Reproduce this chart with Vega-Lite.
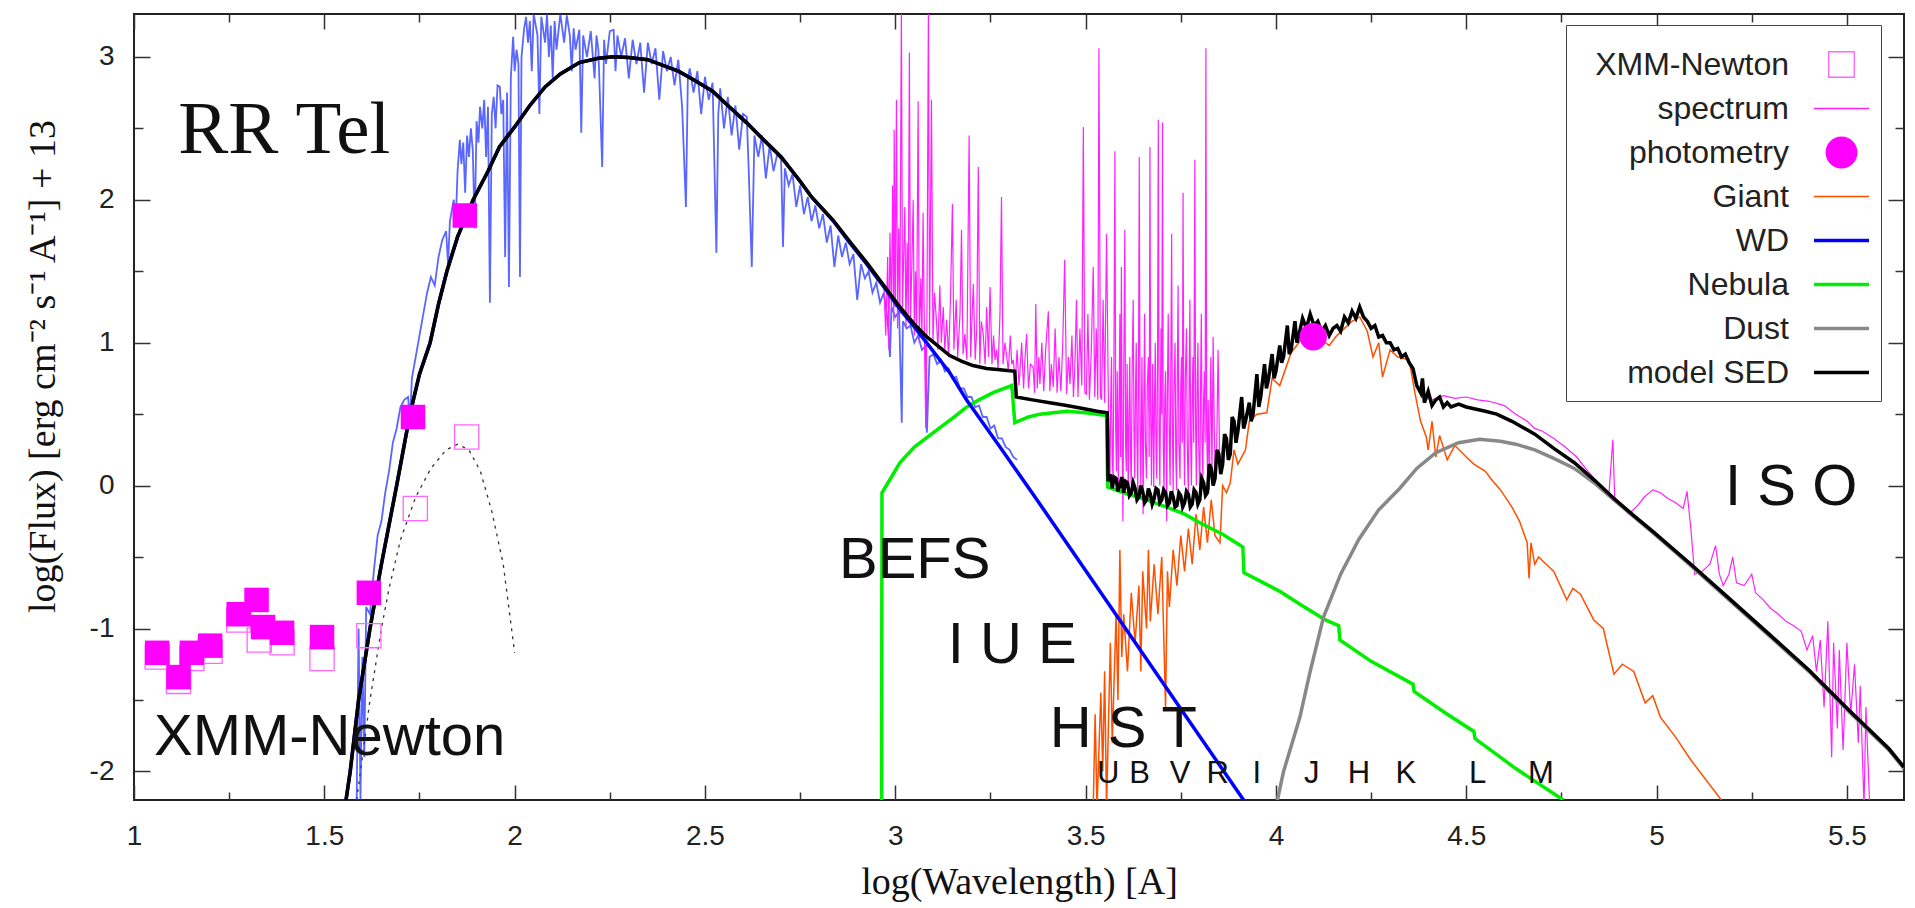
{
 "$schema": "https://vega.github.io/schema/vega-lite/v6.json",
 "width": 1770, "height": 786,
 "autosize": {"type": "none"},
 "padding": {"left": 134, "top": 14, "right": 11, "bottom": 108},
 "background": "white",
 "datasets": {
  "dot": [{"x":1.585,"y":-2.2},{"x":1.62,"y":-1.5},{"x":1.65,"y":-1.0},{"x":1.67,"y":-0.72},{"x":1.70,"y":-0.38},{"x":1.74,"y":-0.08},{"x":1.78,"y":0.12},{"x":1.82,"y":0.25},{"x":1.85,"y":0.29},{"x":1.88,"y":0.25},{"x":1.91,"y":0.10},{"x":1.94,"y":-0.18},{"x":1.97,"y":-0.55},{"x":2.0,"y":-1.17}],
  "wdn": [{"x":1.585,"y":-2.2},{"x":1.59,"y":-1.0},{"x":1.595,"y":-2.2},{"x":1.60,"y":-1.2},{"x":1.605,"y":-1.9},{"x":1.61,"y":-0.85},{"x":1.62,"y":-0.9},{"x":1.63,"y":-0.6},{"x":1.64,"y":-0.35},{"x":1.65,"y":-0.25},{"x":1.66,"y":-0.05},{"x":1.67,"y":0.10},{"x":1.68,"y":0.30},{"x":1.69,"y":0.40},{"x":1.70,"y":0.55},{"x":1.71,"y":0.60},{"x":1.72,"y":0.62},{"x":1.725,"y":0.45},{"x":1.73,"y":0.75},{"x":1.74,"y":0.90},{"x":1.75,"y":1.05},{"x":1.76,"y":1.20},{"x":1.77,"y":1.35},{"x":1.78,"y":1.46},{"x":1.79,"y":1.40},{"x":1.80,"y":1.60},{"x":1.81,"y":1.72},{"x":1.82,"y":1.78},{"x":1.825,"y":1.55},{"x":1.83,"y":1.85},{"x":1.84,"y":2.0},{"x":1.845,"y":1.82},{"x":1.85,"y":2.20},{"x":1.856,"y":2.42},{"x":1.86,"y":2.25},{"x":1.865,"y":2.40},{"x":1.87,"y":2.05},{"x":1.875,"y":2.45},{"x":1.88,"y":2.30},{"x":1.885,"y":2.50},{"x":1.89,"y":2.35},{"x":1.895,"y":1.80},{"x":1.90,"y":2.55},{"x":1.905,"y":2.40},{"x":1.909,"y":2.65},{"x":1.915,"y":2.50},{"x":1.92,"y":2.70},{"x":1.925,"y":2.30},{"x":1.93,"y":2.65},{"x":1.935,"y":1.28},{"x":1.94,"y":2.60},{"x":1.945,"y":2.72},{"x":1.95,"y":2.50},{"x":1.955,"y":2.80},{"x":1.961,"y":2.79},{"x":1.965,"y":2.60},{"x":1.97,"y":2.70},{"x":1.975,"y":1.60},{"x":1.98,"y":2.75},{"x":1.985,"y":1.39},{"x":1.99,"y":2.85},{"x":1.996,"y":3.14},{"x":2.0,"y":2.90},{"x":2.005,"y":3.05},{"x":2.01,"y":2.95},{"x":2.014,"y":1.46},{"x":2.018,"y":3.0},{"x":2.025,"y":3.20},{"x":2.03,"y":3.28},{"x":2.035,"y":3.10},{"x":2.04,"y":3.25},{"x":2.045,"y":2.90},{"x":2.05,"y":3.30},{"x":2.06,"y":3.15},{"x":2.065,"y":2.60},{"x":2.07,"y":3.28},{"x":2.08,"y":3.10},{"x":2.085,"y":3.30},{"x":2.09,"y":3.00},{"x":2.095,"y":3.22},{"x":2.10,"y":2.85},{"x":2.105,"y":3.25},{"x":2.11,"y":3.05},{"x":2.12,"y":3.30},{"x":2.13,"y":3.10},{"x":2.137,"y":3.29},{"x":2.145,"y":3.15},{"x":2.15,"y":2.90},{"x":2.155,"y":3.20},{"x":2.16,"y":3.05},{"x":2.17,"y":3.19},{"x":2.175,"y":2.47},{"x":2.18,"y":3.15},{"x":2.19,"y":3.0},{"x":2.20,"y":3.18},{"x":2.21,"y":2.85},{"x":2.215,"y":3.15},{"x":2.22,"y":3.05},{"x":2.23,"y":2.23},{"x":2.235,"y":3.12},{"x":2.24,"y":2.95},{"x":2.25,"y":3.18},{"x":2.26,"y":3.19},{"x":2.265,"y":2.90},{"x":2.27,"y":3.15},{"x":2.28,"y":3.0},{"x":2.29,"y":3.13},{"x":2.30,"y":2.85},{"x":2.31,"y":3.12},{"x":2.32,"y":2.95},{"x":2.33,"y":3.10},{"x":2.34,"y":2.75},{"x":2.35,"y":3.10},{"x":2.36,"y":2.95},{"x":2.37,"y":3.06},{"x":2.38,"y":2.70},{"x":2.39,"y":3.04},{"x":2.40,"y":2.90},{"x":2.41,"y":3.0},{"x":2.42,"y":2.80},{"x":2.43,"y":2.98},{"x":2.44,"y":2.65},{"x":2.45,"y":1.95},{"x":2.455,"y":2.85},{"x":2.46,"y":2.92},{"x":2.47,"y":2.75},{"x":2.48,"y":2.90},{"x":2.49,"y":2.60},{"x":2.50,"y":2.86},{"x":2.51,"y":2.70},{"x":2.52,"y":2.82},{"x":2.53,"y":1.63},{"x":2.535,"y":2.60},{"x":2.54,"y":2.78},{"x":2.55,"y":2.50},{"x":2.56,"y":2.72},{"x":2.57,"y":2.45},{"x":2.58,"y":2.66},{"x":2.59,"y":2.35},{"x":2.60,"y":2.60},{"x":2.61,"y":2.58},{"x":2.615,"y":2.20},{"x":2.623,"y":1.53},{"x":2.63,"y":2.45},{"x":2.64,"y":2.30},{"x":2.65,"y":2.45},{"x":2.66,"y":2.15},{"x":2.67,"y":2.38},{"x":2.68,"y":2.20},{"x":2.69,"y":2.32},{"x":2.70,"y":2.28},{"x":2.705,"y":1.67},{"x":2.71,"y":2.22},{"x":2.72,"y":2.10},{"x":2.73,"y":2.18},{"x":2.74,"y":1.95},{"x":2.75,"y":2.10},{"x":2.76,"y":1.90},{"x":2.77,"y":2.02},{"x":2.78,"y":1.85},{"x":2.79,"y":1.96},{"x":2.80,"y":1.80},{"x":2.81,"y":1.90},{"x":2.82,"y":1.70},{"x":2.83,"y":1.82},{"x":2.84,"y":1.53},{"x":2.85,"y":1.75},{"x":2.86,"y":1.60},{"x":2.87,"y":1.70},{"x":2.88,"y":1.55},{"x":2.89,"y":1.62},{"x":2.90,"y":1.30},{"x":2.91,"y":1.55},{"x":2.92,"y":1.45},{"x":2.93,"y":1.50},{"x":2.94,"y":1.35},{"x":2.95,"y":1.42},{"x":2.96,"y":1.28},{"x":2.97,"y":1.35},{"x":2.98,"y":1.15},{"x":2.986,"y":0.90},{"x":2.99,"y":1.25},{"x":3.00,"y":1.18},{"x":3.01,"y":1.22},{"x":3.017,"y":0.44},{"x":3.02,"y":1.15},{"x":3.03,"y":1.10},{"x":3.04,"y":1.12},{"x":3.05,"y":1.0},{"x":3.06,"y":1.05},{"x":3.07,"y":0.95},{"x":3.08,"y":0.98},{"x":3.083,"y":0.37},{"x":3.09,"y":0.90},{"x":3.10,"y":0.92},{"x":3.11,"y":0.85},{"x":3.12,"y":0.88},{"x":3.13,"y":0.80},{"x":3.14,"y":0.82},{"x":3.15,"y":0.75},{"x":3.16,"y":0.76},{"x":3.17,"y":0.68},{"x":3.18,"y":0.68},{"x":3.19,"y":0.62},{"x":3.20,"y":0.62},{"x":3.21,"y":0.55},{"x":3.22,"y":0.56},{"x":3.23,"y":0.48},{"x":3.24,"y":0.48},{"x":3.25,"y":0.40},{"x":3.26,"y":0.42},{"x":3.27,"y":0.33},{"x":3.28,"y":0.33},{"x":3.29,"y":0.27},{"x":3.30,"y":0.25},{"x":3.31,"y":0.20},{"x":3.32,"y":0.18}],
  "spec": [{"seg":"a","x":2.970,"y":1.40},{"seg":"a","x":2.975,"y":1.05},{"seg":"a","x":2.980,"y":1.60},{"seg":"a","x":2.983,"y":0.95},{"seg":"a","x":2.986,"y":1.77},{"seg":"a","x":2.990,"y":1.20},{"seg":"a","x":2.993,"y":2.10},{"seg":"a","x":2.996,"y":1.15},{"seg":"a","x":2.997,"y":2.49},{"seg":"a","x":3.000,"y":1.25},{"seg":"a","x":3.003,"y":2.70},{"seg":"a","x":3.006,"y":1.10},{"seg":"a","x":3.009,"y":1.80},{"seg":"a","x":3.012,"y":1.20},{"seg":"a","x":3.016,"y":3.35},{"seg":"a","x":3.019,"y":1.25},{"seg":"a","x":3.022,"y":1.60},{"seg":"a","x":3.025,"y":1.95},{"seg":"a","x":3.028,"y":1.10},{"seg":"a","x":3.031,"y":1.70},{"seg":"a","x":3.034,"y":1.20},{"seg":"a","x":3.037,"y":3.03},{"seg":"a","x":3.040,"y":1.15},{"seg":"a","x":3.044,"y":1.60},{"seg":"a","x":3.047,"y":2.00},{"seg":"a","x":3.050,"y":1.05},{"seg":"a","x":3.053,"y":1.50},{"seg":"a","x":3.056,"y":1.10},{"seg":"a","x":3.060,"y":2.69},{"seg":"a","x":3.063,"y":1.00},{"seg":"a","x":3.067,"y":1.45},{"seg":"a","x":3.070,"y":1.05},{"seg":"a","x":3.073,"y":1.91},{"seg":"a","x":3.077,"y":0.95},{"seg":"a","x":3.080,"y":0.40},{"seg":"a","x":3.083,"y":1.10},{"seg":"a","x":3.087,"y":3.35},{"seg":"a","x":3.090,"y":1.05},{"seg":"a","x":3.095,"y":2.70},{"seg":"a","x":3.099,"y":1.00},{"seg":"a","x":3.103,"y":1.35},{"seg":"a","x":3.108,"y":1.16},{"seg":"a","x":3.112,"y":0.95},{"seg":"a","x":3.117,"y":1.40},{"seg":"a","x":3.121,"y":1.00},{"seg":"a","x":3.126,"y":1.25},{"seg":"a","x":3.130,"y":0.95},{"seg":"a","x":3.135,"y":1.16},{"seg":"a","x":3.140,"y":0.90},{"seg":"a","x":3.145,"y":1.30},{"seg":"a","x":3.150,"y":1.97},{"seg":"a","x":3.154,"y":0.95},{"seg":"a","x":3.160,"y":1.30},{"seg":"a","x":3.164,"y":0.90},{"seg":"a","x":3.170,"y":1.20},{"seg":"a","x":3.174,"y":1.79},{"seg":"a","x":3.178,"y":0.92},{"seg":"a","x":3.183,"y":1.06},{"seg":"a","x":3.188,"y":0.88},{"seg":"a","x":3.194,"y":2.45},{"seg":"a","x":3.198,"y":0.90},{"seg":"a","x":3.202,"y":1.20},{"seg":"a","x":3.205,"y":1.41},{"seg":"a","x":3.210,"y":0.88},{"seg":"a","x":3.214,"y":1.10},{"seg":"a","x":3.218,"y":2.23},{"seg":"a","x":3.222,"y":0.85},{"seg":"a","x":3.226,"y":1.15},{"seg":"a","x":3.231,"y":1.06},{"seg":"a","x":3.236,"y":0.85},{"seg":"a","x":3.240,"y":1.25},{"seg":"a","x":3.245,"y":0.90},{"seg":"a","x":3.249,"y":1.39},{"seg":"a","x":3.254,"y":0.85},{"seg":"a","x":3.258,"y":1.05},{"seg":"a","x":3.262,"y":0.88},{"seg":"a","x":3.266,"y":0.95},{"seg":"a","x":3.270,"y":0.82},{"seg":"a","x":3.275,"y":1.20},{"seg":"a","x":3.279,"y":2.02},{"seg":"a","x":3.283,"y":0.85},{"seg":"a","x":3.288,"y":1.00},{"seg":"a","x":3.292,"y":0.92},{"seg":"a","x":3.297,"y":0.80},{"seg":"a","x":3.302,"y":1.05},{"seg":"a","x":3.306,"y":0.85},{"seg":"a","x":3.310,"y":0.88},{"seg":"a","x":3.315,"y":0.72},{"seg":"a","x":3.320,"y":0.95},{"seg":"a","x":3.325,"y":0.70},{"seg":"a","x":3.327,"y":0.78},{"seg":"a","x":3.332,"y":1.00},{"seg":"a","x":3.337,"y":0.68},{"seg":"a","x":3.341,"y":0.90},{"seg":"a","x":3.345,"y":1.06},{"seg":"a","x":3.350,"y":0.68},{"seg":"a","x":3.355,"y":0.85},{"seg":"a","x":3.362,"y":0.83},{"seg":"a","x":3.366,"y":0.65},{"seg":"a","x":3.369,"y":1.27},{"seg":"a","x":3.373,"y":0.68},{"seg":"a","x":3.377,"y":0.90},{"seg":"a","x":3.380,"y":0.71},{"seg":"a","x":3.385,"y":1.00},{"seg":"a","x":3.390,"y":0.66},{"seg":"a","x":3.395,"y":0.95},{"seg":"a","x":3.402,"y":1.22},{"seg":"a","x":3.406,"y":0.66},{"seg":"a","x":3.410,"y":0.85},{"seg":"a","x":3.415,"y":0.69},{"seg":"a","x":3.420,"y":1.10},{"seg":"a","x":3.425,"y":0.65},{"seg":"a","x":3.430,"y":0.90},{"seg":"a","x":3.435,"y":0.66},{"seg":"a","x":3.440,"y":1.00},{"seg":"a","x":3.445,"y":1.58},{"seg":"a","x":3.450,"y":0.64},{"seg":"a","x":3.455,"y":0.90},{"seg":"a","x":3.459,"y":0.71},{"seg":"a","x":3.464,"y":1.05},{"seg":"a","x":3.468,"y":0.62},{"seg":"a","x":3.472,"y":0.85},{"seg":"a","x":3.476,"y":1.30},{"seg":"a","x":3.480,"y":0.62},{"seg":"a","x":3.485,"y":1.10},{"seg":"a","x":3.490,"y":0.70},{"seg":"a","x":3.494,"y":2.51},{"seg":"a","x":3.498,"y":0.65},{"seg":"a","x":3.502,"y":0.64},{"seg":"a","x":3.506,"y":1.20},{"seg":"a","x":3.510,"y":0.60},{"seg":"a","x":3.515,"y":0.95},{"seg":"a","x":3.520,"y":1.53},{"seg":"a","x":3.524,"y":0.62},{"seg":"a","x":3.528,"y":1.10},{"seg":"a","x":3.532,"y":0.60},{"seg":"a","x":3.535,"y":3.06},{"seg":"a","x":3.539,"y":0.62},{"seg":"a","x":3.542,"y":0.60},{"seg":"a","x":3.546,"y":1.30},{"seg":"a","x":3.550,"y":0.58},{"seg":"a","x":3.555,"y":1.76},{"seg":"a","x":3.560,"y":0.55},{"seg":"a","x":3.562,"y":0.30},{"seg":"a","x":3.564,"y":0.04},{"seg":"a","x":3.566,"y":0.60},{"seg":"a","x":3.568,"y":0.90},{"seg":"a","x":3.570,"y":0.20},{"seg":"a","x":3.572,"y":0.05},{"seg":"a","x":3.574,"y":0.70},{"seg":"a","x":3.577,"y":2.34},{"seg":"a","x":3.579,"y":0.40},{"seg":"a","x":3.581,"y":0.10},{"seg":"a","x":3.583,"y":0.80},{"seg":"a","x":3.586,"y":0.01},{"seg":"a","x":3.588,"y":0.60},{"seg":"a","x":3.590,"y":1.20},{"seg":"a","x":3.592,"y":0.20},{"seg":"a","x":3.594,"y":1.53},{"seg":"a","x":3.596,"y":0.30},{"seg":"a","x":3.598,"y":-0.25},{"seg":"a","x":3.600,"y":0.70},{"seg":"a","x":3.603,"y":1.79},{"seg":"a","x":3.605,"y":0.30},{"seg":"a","x":3.607,"y":0.10},{"seg":"a","x":3.609,"y":0.85},{"seg":"a","x":3.612,"y":-0.06},{"seg":"a","x":3.614,"y":0.50},{"seg":"a","x":3.616,"y":0.90},{"seg":"a","x":3.618,"y":0.20},{"seg":"a","x":3.620,"y":0.00},{"seg":"a","x":3.622,"y":0.75},{"seg":"a","x":3.625,"y":1.30},{"seg":"a","x":3.627,"y":0.40},{"seg":"a","x":3.629,"y":0.05},{"seg":"a","x":3.631,"y":0.65},{"seg":"a","x":3.633,"y":1.00},{"seg":"a","x":3.635,"y":0.30},{"seg":"a","x":3.637,"y":-0.05},{"seg":"a","x":3.639,"y":0.80},{"seg":"a","x":3.641,"y":2.30},{"seg":"a","x":3.643,"y":0.40},{"seg":"a","x":3.645,"y":0.00},{"seg":"a","x":3.648,"y":0.90},{"seg":"a","x":3.651,"y":-0.20},{"seg":"a","x":3.653,"y":0.60},{"seg":"a","x":3.655,"y":1.20},{"seg":"a","x":3.657,"y":0.30},{"seg":"a","x":3.660,"y":0.05},{"seg":"a","x":3.662,"y":0.70},{"seg":"a","x":3.665,"y":0.90},{"seg":"a","x":3.667,"y":0.20},{"seg":"a","x":3.669,"y":2.37},{"seg":"a","x":3.671,"y":0.50},{"seg":"a","x":3.673,"y":0.00},{"seg":"a","x":3.676,"y":0.85},{"seg":"a","x":3.679,"y":-0.01},{"seg":"a","x":3.681,"y":0.60},{"seg":"a","x":3.683,"y":1.00},{"seg":"a","x":3.685,"y":0.25},{"seg":"a","x":3.687,"y":0.05},{"seg":"a","x":3.689,"y":0.90},{"seg":"a","x":3.691,"y":2.56},{"seg":"a","x":3.693,"y":0.40},{"seg":"a","x":3.695,"y":0.00},{"seg":"a","x":3.698,"y":1.10},{"seg":"a","x":3.700,"y":0.50},{"seg":"a","x":3.702,"y":2.54},{"seg":"a","x":3.704,"y":0.30},{"seg":"a","x":3.706,"y":-0.05},{"seg":"a","x":3.708,"y":0.60},{"seg":"a","x":3.710,"y":0.80},{"seg":"a","x":3.712,"y":0.20},{"seg":"a","x":3.713,"y":-0.25},{"seg":"a","x":3.715,"y":0.70},{"seg":"a","x":3.717,"y":1.20},{"seg":"a","x":3.720,"y":0.30},{"seg":"a","x":3.722,"y":0.00},{"seg":"a","x":3.724,"y":0.90},{"seg":"a","x":3.726,"y":1.76},{"seg":"a","x":3.728,"y":0.40},{"seg":"a","x":3.730,"y":-0.05},{"seg":"a","x":3.732,"y":0.65},{"seg":"a","x":3.735,"y":1.00},{"seg":"a","x":3.737,"y":0.20},{"seg":"a","x":3.739,"y":-0.03},{"seg":"a","x":3.741,"y":0.80},{"seg":"a","x":3.743,"y":1.40},{"seg":"a","x":3.745,"y":0.30},{"seg":"a","x":3.748,"y":0.05},{"seg":"a","x":3.750,"y":0.70},{"seg":"a","x":3.752,"y":0.90},{"seg":"a","x":3.754,"y":0.30},{"seg":"a","x":3.756,"y":2.05},{"seg":"a","x":3.758,"y":0.40},{"seg":"a","x":3.760,"y":0.00},{"seg":"a","x":3.762,"y":0.75},{"seg":"a","x":3.765,"y":1.10},{"seg":"a","x":3.767,"y":0.30},{"seg":"a","x":3.770,"y":-0.08},{"seg":"a","x":3.772,"y":0.70},{"seg":"a","x":3.774,"y":1.30},{"seg":"a","x":3.776,"y":0.30},{"seg":"a","x":3.778,"y":0.00},{"seg":"a","x":3.780,"y":0.60},{"seg":"a","x":3.782,"y":0.90},{"seg":"a","x":3.784,"y":0.30},{"seg":"a","x":3.787,"y":2.28},{"seg":"a","x":3.789,"y":0.40},{"seg":"a","x":3.791,"y":0.00},{"seg":"a","x":3.793,"y":0.70},{"seg":"a","x":3.795,"y":1.00},{"seg":"a","x":3.797,"y":0.30},{"seg":"a","x":3.800,"y":-0.06},{"seg":"a","x":3.802,"y":0.70},{"seg":"a","x":3.804,"y":1.20},{"seg":"a","x":3.806,"y":0.30},{"seg":"a","x":3.808,"y":0.05},{"seg":"a","x":3.810,"y":0.60},{"seg":"a","x":3.812,"y":0.80},{"seg":"a","x":3.814,"y":0.30},{"seg":"a","x":3.816,"y":3.06},{"seg":"a","x":3.818,"y":0.40},{"seg":"a","x":3.820,"y":0.10},{"seg":"a","x":3.822,"y":0.60},{"seg":"a","x":3.825,"y":-0.03},{"seg":"a","x":3.827,"y":0.50},{"seg":"a","x":3.829,"y":0.90},{"seg":"a","x":3.832,"y":0.10},{"seg":"a","x":3.835,"y":1.04},{"seg":"a","x":3.838,"y":0.40},{"seg":"a","x":3.840,"y":0.15},{"seg":"a","x":3.844,"y":0.18},{"seg":"a","x":3.848,"y":0.95},{"seg":"a","x":3.852,"y":0.20},{"seg":"a","x":3.854,"y":0.13},{"seg":"a","x":3.860,"y":0.30},
   {"seg":"b","x":4.38,"y":0.62},{"seg":"b","x":4.41,"y":0.60},{"seg":"b","x":4.44,"y":0.63},{"seg":"b","x":4.47,"y":0.61},{"seg":"b","x":4.50,"y":0.62},{"seg":"b","x":4.53,"y":0.60},{"seg":"b","x":4.56,"y":0.59},{"seg":"b","x":4.60,"y":0.56},{"seg":"b","x":4.63,"y":0.50},{"seg":"b","x":4.66,"y":0.45},{"seg":"b","x":4.68,"y":0.40},{"seg":"b","x":4.70,"y":0.38},{"seg":"b","x":4.73,"y":0.33},{"seg":"b","x":4.76,"y":0.27},{"seg":"b","x":4.79,"y":0.20},{"seg":"b","x":4.82,"y":0.10},{"seg":"b","x":4.846,"y":0.02},{"seg":"b","x":4.86,"y":-0.02},{"seg":"b","x":4.875,"y":-0.05},{"seg":"b","x":4.885,"y":0.32},{"seg":"b","x":4.89,"y":-0.08},{"seg":"b","x":4.91,"y":-0.15},{"seg":"b","x":4.927,"y":-0.20},{"seg":"b","x":4.95,"y":-0.14},{"seg":"b","x":4.968,"y":-0.08},{"seg":"b","x":4.99,"y":-0.03},{"seg":"b","x":5.01,"y":-0.05},{"seg":"b","x":5.03,"y":-0.09},{"seg":"b","x":5.05,"y":-0.12},{"seg":"b","x":5.07,"y":-0.16},{"seg":"b","x":5.08,"y":-0.04},{"seg":"b","x":5.09,"y":-0.30},{"seg":"b","x":5.10,"y":-0.62},{"seg":"b","x":5.12,"y":-0.60},{"seg":"b","x":5.14,"y":-0.55},{"seg":"b","x":5.155,"y":-0.42},{"seg":"b","x":5.165,"y":-0.62},{"seg":"b","x":5.175,"y":-0.70},{"seg":"b","x":5.19,"y":-0.62},{"seg":"b","x":5.20,"y":-0.50},{"seg":"b","x":5.21,"y":-0.68},{"seg":"b","x":5.23,"y":-0.70},{"seg":"b","x":5.25,"y":-0.62},{"seg":"b","x":5.26,"y":-0.75},{"seg":"b","x":5.28,"y":-0.80},{"seg":"b","x":5.30,"y":-0.86},{"seg":"b","x":5.32,"y":-0.90},{"seg":"b","x":5.34,"y":-0.95},{"seg":"b","x":5.36,"y":-0.98},{"seg":"b","x":5.38,"y":-1.02},{"seg":"b","x":5.395,"y":-1.15},{"seg":"b","x":5.41,"y":-1.05},{"seg":"b","x":5.42,"y":-1.30},{"seg":"b","x":5.43,"y":-1.08},{"seg":"b","x":5.44,"y":-1.55},{"seg":"b","x":5.45,"y":-0.95},{"seg":"b","x":5.46,"y":-1.90},{"seg":"b","x":5.465,"y":-1.10},{"seg":"b","x":5.475,"y":-1.70},{"seg":"b","x":5.48,"y":-1.15},{"seg":"b","x":5.49,"y":-1.85},{"seg":"b","x":5.50,"y":-1.10},{"seg":"b","x":5.51,"y":-1.60},{"seg":"b","x":5.52,"y":-1.25},{"seg":"b","x":5.53,"y":-1.80},{"seg":"b","x":5.535,"y":-1.40},{"seg":"b","x":5.545,"y":-2.25},{"seg":"b","x":5.55,"y":-1.55},{"seg":"b","x":5.56,"y":-2.25}],
  "giant": [{"x":3.52,"y":-2.25},{"x":3.525,"y":-1.6},{"x":3.53,"y":-2.25},{"x":3.54,"y":-1.45},{"x":3.545,"y":-2.0},{"x":3.55,"y":-1.3},{"x":3.555,"y":-2.25},{"x":3.565,"y":-1.1},{"x":3.57,"y":-1.8},{"x":3.58,"y":-0.9},{"x":3.585,"y":-1.5},{"x":3.59,"y":-0.45},{"x":3.595,"y":-1.2},{"x":3.60,"y":-0.9},{"x":3.61,"y":-1.3},{"x":3.62,"y":-0.75},{"x":3.63,"y":-1.1},{"x":3.64,"y":-0.7},{"x":3.645,"y":-1.3},{"x":3.65,"y":-0.6},{"x":3.66,"y":-1.0},{"x":3.665,"y":-0.45},{"x":3.67,"y":-0.95},{"x":3.68,"y":-0.55},{"x":3.69,"y":-0.9},{"x":3.70,"y":-0.5},{"x":3.71,"y":-1.55},{"x":3.715,"y":-0.6},{"x":3.72,"y":-0.85},{"x":3.73,"y":-0.45},{"x":3.74,"y":-0.7},{"x":3.75,"y":-0.35},{"x":3.76,"y":-0.6},{"x":3.77,"y":-0.3},{"x":3.78,"y":-0.55},{"x":3.79,"y":-0.2},{"x":3.80,"y":-0.45},{"x":3.81,"y":-0.15},{"x":3.82,"y":-0.4},{"x":3.83,"y":-0.1},{"x":3.84,"y":-0.35},{"x":3.853,"y":-0.4},{"x":3.86,"y":0.0},{"x":3.87,"y":-0.05},{"x":3.88,"y":0.02},{"x":3.89,"y":0.25},{"x":3.90,"y":0.15},{"x":3.92,"y":0.25},{"x":3.93,"y":0.45},{"x":3.95,"y":0.5},{"x":3.976,"y":0.51},{"x":3.99,"y":0.75},{"x":4.01,"y":0.7},{"x":4.04,"y":0.93},{"x":4.06,"y":1.0},{"x":4.08,"y":1.08},{"x":4.10,"y":1.05},{"x":4.12,"y":1.02},{"x":4.14,"y":0.98},{"x":4.16,"y":1.05},{"x":4.18,"y":1.1},{"x":4.20,"y":1.15},{"x":4.22,"y":1.18},{"x":4.24,"y":1.08},{"x":4.255,"y":0.9},{"x":4.27,"y":1.0},{"x":4.28,"y":0.76},{"x":4.30,"y":0.95},{"x":4.32,"y":0.9},{"x":4.35,"y":0.88},{"x":4.365,"y":0.65},{"x":4.38,"y":0.45},{"x":4.395,"y":0.34},{"x":4.40,"y":0.25},{"x":4.41,"y":0.45},{"x":4.42,"y":0.2},{"x":4.43,"y":0.35},{"x":4.45,"y":0.18},{"x":4.47,"y":0.28},{"x":4.50,"y":0.2},{"x":4.52,"y":0.15},{"x":4.55,"y":0.1},{"x":4.57,"y":0.03},{"x":4.59,"y":-0.03},{"x":4.62,"y":-0.15},{"x":4.64,"y":-0.25},{"x":4.66,"y":-0.4},{"x":4.665,"y":-0.65},{"x":4.67,"y":-0.4},{"x":4.68,"y":-0.55},{"x":4.69,"y":-0.5},{"x":4.71,"y":-0.55},{"x":4.73,"y":-0.6},{"x":4.764,"y":-0.8},{"x":4.78,"y":-0.72},{"x":4.80,"y":-0.76},{"x":4.835,"y":-0.94},{"x":4.86,"y":-1.0},{"x":4.888,"y":-1.32},{"x":4.91,"y":-1.25},{"x":4.94,"y":-1.3},{"x":4.97,"y":-1.52},{"x":4.99,"y":-1.47},{"x":5.01,"y":-1.62},{"x":5.05,"y":-1.76},{"x":5.09,"y":-1.92},{"x":5.17,"y":-2.2}],
  "neb": [{"x":2.964,"y":-2.25},{"x":2.965,"y":-0.05},{"x":2.99,"y":0.06},{"x":3.012,"y":0.16},{"x":3.05,"y":0.27},{"x":3.10,"y":0.37},{"x":3.15,"y":0.47},{"x":3.188,"y":0.55},{"x":3.22,"y":0.60},{"x":3.257,"y":0.65},{"x":3.306,"y":0.70},{"x":3.314,"y":0.44},{"x":3.35,"y":0.48},{"x":3.38,"y":0.50},{"x":3.45,"y":0.52},{"x":3.50,"y":0.51},{"x":3.555,"y":0.49},{"x":3.558,"y":-0.01},{"x":3.60,"y":-0.05},{"x":3.65,"y":-0.09},{"x":3.713,"y":-0.15},{"x":3.76,"y":-0.20},{"x":3.80,"y":-0.26},{"x":3.86,"y":-0.34},{"x":3.913,"y":-0.43},{"x":3.916,"y":-0.61},{"x":3.96,"y":-0.67},{"x":4.01,"y":-0.74},{"x":4.063,"y":-0.83},{"x":4.13,"y":-0.94},{"x":4.165,"y":-0.98},{"x":4.168,"y":-1.08},{"x":4.25,"y":-1.23},{"x":4.36,"y":-1.39},{"x":4.363,"y":-1.44},{"x":4.45,"y":-1.60},{"x":4.52,"y":-1.72},{"x":4.523,"y":-1.77},{"x":4.63,"y":-1.98},{"x":4.755,"y":-2.2}],
  "dust": [{"x":4.0,"y":-2.25},{"x":4.02,"y":-2.0},{"x":4.045,"y":-1.78},{"x":4.063,"y":-1.62},{"x":4.09,"y":-1.30},{"x":4.125,"y":-0.92},{"x":4.17,"y":-0.62},{"x":4.218,"y":-0.375},{"x":4.27,"y":-0.17},{"x":4.325,"y":-0.02},{"x":4.37,"y":0.12},{"x":4.42,"y":0.23},{"x":4.48,"y":0.30},{"x":4.535,"y":0.325},{"x":4.59,"y":0.31},{"x":4.63,"y":0.29},{"x":4.68,"y":0.25},{"x":4.73,"y":0.19},{"x":4.784,"y":0.12},{"x":4.84,"y":0.01},{"x":4.888,"y":-0.10},{"x":4.99,"y":-0.33},{"x":5.09,"y":-0.56},{"x":5.195,"y":-0.81},{"x":5.30,"y":-1.06},{"x":5.40,"y":-1.30},{"x":5.505,"y":-1.58},{"x":5.61,"y":-1.85},{"x":5.65,"y":-1.98}],
  "wd": [{"x":1.557,"y":-2.2},{"x":1.568,"y":-2.0},{"x":1.59,"y":-1.5},{"x":1.62,"y":-1.0},{"x":1.65,"y":-0.55},{"x":1.69,"y":0.0},{"x":1.725,"y":0.5},{"x":1.75,"y":0.78},{"x":1.778,"y":1.0},{"x":1.80,"y":1.27},{"x":1.822,"y":1.5},{"x":1.85,"y":1.74},{"x":1.891,"y":2.0},{"x":1.93,"y":2.2},{"x":1.96,"y":2.37},{"x":2.0,"y":2.51},{"x":2.04,"y":2.66},{"x":2.08,"y":2.79},{"x":2.12,"y":2.88},{"x":2.17,"y":2.96},{"x":2.22,"y":2.99},{"x":2.26,"y":3.0},{"x":2.30,"y":2.995},{"x":2.35,"y":2.98},{"x":2.40,"y":2.93},{"x":2.43,"y":2.90},{"x":2.47,"y":2.84},{"x":2.52,"y":2.76},{"x":2.56,"y":2.66},{"x":2.609,"y":2.54},{"x":2.65,"y":2.43},{"x":2.70,"y":2.30},{"x":2.75,"y":2.13},{"x":2.78,"y":2.02},{"x":2.836,"y":1.855},{"x":2.88,"y":1.70},{"x":2.925,"y":1.55},{"x":2.97,"y":1.39},{"x":3.012,"y":1.235},{"x":3.05,"y":1.11},{"x":3.082,"y":1.0},{"x":3.143,"y":0.79},{"x":3.187,"y":0.60},{"x":3.275,"y":0.27},{"x":3.362,"y":-0.06},{"x":3.5,"y":-0.594},{"x":3.65,"y":-1.175},{"x":3.8,"y":-1.755},{"x":3.915,"y":-2.2}],
  "sed": [{"x":1.557,"y":-2.2},{"x":1.568,"y":-2.0},{"x":1.59,"y":-1.5},{"x":1.62,"y":-1.0},{"x":1.65,"y":-0.55},{"x":1.69,"y":0.0},{"x":1.725,"y":0.5},{"x":1.75,"y":0.78},{"x":1.778,"y":1.0},{"x":1.80,"y":1.27},{"x":1.822,"y":1.5},{"x":1.85,"y":1.74},{"x":1.891,"y":2.0},{"x":1.93,"y":2.2},{"x":1.96,"y":2.37},{"x":2.0,"y":2.51},{"x":2.04,"y":2.66},{"x":2.08,"y":2.79},{"x":2.12,"y":2.88},{"x":2.17,"y":2.96},{"x":2.22,"y":2.99},{"x":2.26,"y":3.0},{"x":2.30,"y":2.995},{"x":2.35,"y":2.98},{"x":2.40,"y":2.93},{"x":2.43,"y":2.90},{"x":2.47,"y":2.84},{"x":2.52,"y":2.76},{"x":2.56,"y":2.66},{"x":2.609,"y":2.54},{"x":2.65,"y":2.43},{"x":2.70,"y":2.30},{"x":2.75,"y":2.13},{"x":2.78,"y":2.02},{"x":2.836,"y":1.86},{"x":2.88,"y":1.71},{"x":2.925,"y":1.56},{"x":2.97,"y":1.40},{"x":3.012,"y":1.25},{"x":3.05,"y":1.13},{"x":3.083,"y":1.04},{"x":3.12,"y":0.96},{"x":3.143,"y":0.91},{"x":3.175,"y":0.87},{"x":3.204,"y":0.84},{"x":3.24,"y":0.82},{"x":3.275,"y":0.81},{"x":3.314,"y":0.80},{"x":3.318,"y":0.62},{"x":3.36,"y":0.60},{"x":3.406,"y":0.58},{"x":3.45,"y":0.56},{"x":3.493,"y":0.54},{"x":3.53,"y":0.52},{"x":3.557,"y":0.51},{"x":3.559,"y":0.03},{"x":3.565,"y":0.08},{"x":3.57,"y":-0.02},{"x":3.575,"y":0.06},{"x":3.58,"y":0.05},{"x":3.585,"y":-0.04},{"x":3.59,"y":0.0},{"x":3.595,"y":0.06},{"x":3.60,"y":-0.05},{"x":3.605,"y":0.03},{"x":3.61,"y":0.02},{"x":3.615,"y":-0.07},{"x":3.62,"y":-0.05},{"x":3.625,"y":0.02},{"x":3.63,"y":-0.02},{"x":3.635,"y":-0.10},{"x":3.64,"y":-0.08},{"x":3.645,"y":0.0},{"x":3.65,"y":-0.04},{"x":3.655,"y":-0.12},{"x":3.66,"y":-0.10},{"x":3.665,"y":-0.02},{"x":3.67,"y":-0.06},{"x":3.675,"y":-0.13},{"x":3.68,"y":-0.09},{"x":3.685,"y":-0.02},{"x":3.69,"y":-0.03},{"x":3.695,"y":-0.12},{"x":3.70,"y":-0.10},{"x":3.705,"y":-0.03},{"x":3.71,"y":-0.05},{"x":3.715,"y":-0.14},{"x":3.72,"y":-0.12},{"x":3.725,"y":-0.04},{"x":3.73,"y":-0.08},{"x":3.735,"y":-0.15},{"x":3.74,"y":-0.14},{"x":3.745,"y":-0.05},{"x":3.75,"y":-0.07},{"x":3.755,"y":-0.15},{"x":3.76,"y":-0.12},{"x":3.765,"y":-0.04},{"x":3.77,"y":-0.06},{"x":3.775,"y":-0.15},{"x":3.78,"y":-0.13},{"x":3.785,"y":-0.03},{"x":3.79,"y":-0.05},{"x":3.795,"y":-0.13},{"x":3.80,"y":-0.10},{"x":3.805,"y":0.05},{"x":3.81,"y":0.02},{"x":3.815,"y":-0.07},{"x":3.82,"y":-0.05},{"x":3.825,"y":0.15},{"x":3.83,"y":0.12},{"x":3.835,"y":0.0},{"x":3.84,"y":0.05},{"x":3.845,"y":0.25},{"x":3.85,"y":0.22},{"x":3.855,"y":0.08},{"x":3.86,"y":0.15},{"x":3.865,"y":0.36},{"x":3.87,"y":0.33},{"x":3.875,"y":0.18},{"x":3.88,"y":0.22},{"x":3.885,"y":0.48},{"x":3.89,"y":0.45},{"x":3.895,"y":0.30},{"x":3.90,"y":0.38},{"x":3.91,"y":0.62},{"x":3.915,"y":0.40},{"x":3.92,"y":0.45},{"x":3.93,"y":0.58},{"x":3.935,"y":0.45},{"x":3.94,"y":0.50},{"x":3.95,"y":0.78},{"x":3.955,"y":0.55},{"x":3.96,"y":0.62},{"x":3.97,"y":0.85},{"x":3.975,"y":0.68},{"x":3.98,"y":0.74},{"x":3.99,"y":0.92},{"x":3.995,"y":0.75},{"x":4.00,"y":0.80},{"x":4.01,"y":0.98},{"x":4.015,"y":0.86},{"x":4.02,"y":0.90},{"x":4.03,"y":1.12},{"x":4.035,"y":0.92},{"x":4.04,"y":0.95},{"x":4.05,"y":1.15},{"x":4.055,"y":1.0},{"x":4.06,"y":1.05},{"x":4.07,"y":1.17},{"x":4.08,"y":1.10},{"x":4.09,"y":1.20},{"x":4.10,"y":1.12},{"x":4.11,"y":1.15},{"x":4.12,"y":1.08},{"x":4.13,"y":1.12},{"x":4.14,"y":1.05},{"x":4.15,"y":1.10},{"x":4.16,"y":1.12},{"x":4.17,"y":1.08},{"x":4.18,"y":1.18},{"x":4.19,"y":1.14},{"x":4.20,"y":1.22},{"x":4.21,"y":1.17},{"x":4.22,"y":1.25},{"x":4.23,"y":1.18},{"x":4.24,"y":1.15},{"x":4.25,"y":1.10},{"x":4.26,"y":1.12},{"x":4.27,"y":1.04},{"x":4.28,"y":1.05},{"x":4.29,"y":1.0},{"x":4.30,"y":1.0},{"x":4.31,"y":0.95},{"x":4.32,"y":0.96},{"x":4.33,"y":0.90},{"x":4.34,"y":0.92},{"x":4.35,"y":0.86},{"x":4.36,"y":0.82},{"x":4.37,"y":0.70},{"x":4.38,"y":0.65},{"x":4.385,"y":0.75},{"x":4.39,"y":0.58},{"x":4.40,"y":0.66},{"x":4.41,"y":0.56},{"x":4.42,"y":0.60},{"x":4.43,"y":0.62},{"x":4.44,"y":0.55},{"x":4.45,"y":0.58},{"x":4.46,"y":0.55},{"x":4.48,"y":0.57},{"x":4.50,"y":0.55},{"x":4.55,"y":0.52},{"x":4.58,"y":0.50},{"x":4.62,"y":0.45},{"x":4.68,"y":0.36},{"x":4.73,"y":0.26},{"x":4.784,"y":0.16},{"x":4.84,"y":0.03},{"x":4.888,"y":-0.09},{"x":4.94,"y":-0.21},{"x":4.99,"y":-0.32},{"x":5.09,"y":-0.55},{"x":5.195,"y":-0.80},{"x":5.30,"y":-1.05},{"x":5.40,"y":-1.29},{"x":5.505,"y":-1.57},{"x":5.61,"y":-1.84},{"x":5.65,"y":-1.97}],
  "xmmo": [{"s":"XMM-Newton","x":1.061,"y":-1.2},{"s":"XMM-Newton","x":1.117,"y":-1.37},{"s":"XMM-Newton","x":1.152,"y":-1.21},{"s":"XMM-Newton","x":1.2,"y":-1.16},{"s":"XMM-Newton","x":1.275,"y":-0.94},{"s":"XMM-Newton","x":1.329,"y":-1.08},{"s":"XMM-Newton","x":1.389,"y":-1.10},{"s":"XMM-Newton","x":1.494,"y":-1.21},{"s":"XMM-Newton","x":1.617,"y":-1.05},{"s":"XMM-Newton","x":1.739,"y":-0.16},{"s":"XMM-Newton","x":1.874,"y":0.34}],
  "xmmf": [{"x":1.061,"y":-1.17},{"x":1.117,"y":-1.34},{"x":1.152,"y":-1.17},{"x":1.2,"y":-1.12},{"x":1.275,"y":-0.90},{"x":1.322,"y":-0.80},{"x":1.339,"y":-0.99},{"x":1.389,"y":-1.03},{"x":1.494,"y":-1.06},{"x":1.617,"y":-0.75},{"x":1.733,"y":0.48},{"x":1.869,"y":1.89}],
  "phot": [{"x":4.098,"y":1.041}],
  "labrr": [{"t":"RR Tel","x":1.116,"y":2.328}],
  "labbig": [{"t":"XMM-Newton","x":1.0525,"y":-1.888},{"t":"BEFS","x":2.852,"y":-0.648},{"t":"I U E","x":3.138,"y":-1.244},{"t":"H S T","x":3.406,"y":-1.832},{"t":"I S O","x":5.18,"y":-0.137}],
  "labband": [{"t":"U","x":3.559,"y":-2.084},{"t":"B","x":3.642,"y":-2.084},{"t":"V","x":3.748,"y":-2.084},{"t":"R","x":3.847,"y":-2.084},{"t":"I","x":3.95,"y":-2.084},{"t":"J","x":4.094,"y":-2.084},{"t":"H","x":4.218,"y":-2.084},{"t":"K","x":4.341,"y":-2.084},{"t":"L","x":4.53,"y":-2.084},{"t":"M","x":4.696,"y":-2.084}]
 },
 "resolve": {"axis": {"x": "independent", "y": "independent"}},
 "layer": [
  {"data": {"name": "dot"},
   "mark": {"type": "line", "stroke": "#333333", "strokeWidth": 1.3, "strokeDash": [3, 5], "clip": true},
   "encoding": {
    "x": {"field": "x", "type": "quantitative", "scale": {"domain": [1, 5.65], "nice": false, "zero": false},
     "axis": {"orient": "top", "values": [1,1.25,1.5,1.75,2,2.25,2.5,2.75,3,3.25,3.5,3.75,4,4.25,4.5,4.75,5,5.25,5.5], "labels": false, "title": null,
      "tickSize": {"condition": {"test": "datum.value % 0.5 === 0", "value": -15}, "value": -8}}},
    "y": {"field": "y", "type": "quantitative", "scale": {"domain": [-2.2, 3.3], "nice": false, "zero": false},
     "axis": {"orient": "right", "values": [-2,-1.5,-1,-0.5,0,0.5,1,1.5,2,2.5,3], "labels": false, "title": null,
      "tickSize": {"condition": {"test": "datum.value % 1 === 0", "value": -16}, "value": -9}}},
    "order": {"value": null}}},
  {"data": {"name": "wdn"},
   "mark": {"type": "line", "stroke": "#2233ff", "strokeWidth": 1.8, "opacity": 0.75, "clip": true},
   "encoding": {
    "x": {"field": "x", "type": "quantitative", "scale": {"domain": [1, 5.65], "nice": false, "zero": false}, "axis": null},
    "y": {"field": "y", "type": "quantitative", "scale": {"domain": [-2.2, 3.3], "nice": false, "zero": false}, "axis": null},
    "order": {"value": null}}},
  {"data": {"name": "spec"},
   "mark": {"type": "line", "stroke": "#ff22ff", "strokeWidth": 1.2, "clip": true},
   "encoding": {
    "x": {"field": "x", "type": "quantitative", "scale": {"domain": [1, 5.65], "nice": false, "zero": false}, "axis": null},
    "y": {"field": "y", "type": "quantitative", "scale": {"domain": [-2.2, 3.3], "nice": false, "zero": false}, "axis": null},
    "detail": {"field": "seg"},
    "order": {"value": null}}},
  {"data": {"name": "giant"},
   "mark": {"type": "line", "stroke": "#ff5000", "strokeWidth": 1.5, "clip": true},
   "encoding": {
    "x": {"field": "x", "type": "quantitative", "scale": {"domain": [1, 5.65], "nice": false, "zero": false}, "axis": null},
    "y": {"field": "y", "type": "quantitative", "scale": {"domain": [-2.2, 3.3], "nice": false, "zero": false}, "axis": null},
    "order": {"value": null}}},
  {"data": {"name": "neb"},
   "mark": {"type": "line", "stroke": "#00ee00", "strokeWidth": 3.5, "clip": true},
   "encoding": {
    "x": {"field": "x", "type": "quantitative", "scale": {"domain": [1, 5.65], "nice": false, "zero": false}, "axis": null},
    "y": {"field": "y", "type": "quantitative", "scale": {"domain": [-2.2, 3.3], "nice": false, "zero": false}, "axis": null},
    "order": {"value": null}}},
  {"data": {"name": "dust"},
   "mark": {"type": "line", "stroke": "#888888", "strokeWidth": 3.5, "clip": true},
   "encoding": {
    "x": {"field": "x", "type": "quantitative", "scale": {"domain": [1, 5.65], "nice": false, "zero": false}, "axis": null},
    "y": {"field": "y", "type": "quantitative", "scale": {"domain": [-2.2, 3.3], "nice": false, "zero": false}, "axis": null},
    "order": {"value": null}}},
  {"data": {"name": "wd"},
   "mark": {"type": "line", "stroke": "#0000ff", "strokeWidth": 3.5, "clip": true},
   "encoding": {
    "x": {"field": "x", "type": "quantitative", "scale": {"domain": [1, 5.65], "nice": false, "zero": false}, "axis": null},
    "y": {"field": "y", "type": "quantitative", "scale": {"domain": [-2.2, 3.3], "nice": false, "zero": false}, "axis": null},
    "order": {"value": null}}},
  {"data": {"name": "sed"},
   "mark": {"type": "line", "stroke": "#000000", "strokeWidth": 3.5, "clip": true},
   "encoding": {
    "x": {"field": "x", "type": "quantitative", "scale": {"domain": [1, 5.65], "nice": false, "zero": false},
     "axis": {"orient": "bottom", "values": [1,1.25,1.5,1.75,2,2.25,2.5,2.75,3,3.25,3.5,3.75,4,4.25,4.5,4.75,5,5.25,5.5],
      "tickSize": {"condition": {"test": "datum.value % 0.5 === 0", "value": -15}, "value": -8},
      "labelExpr": "datum.value % 0.5 === 0 ? toString(datum.value) : ''",
      "labelPadding": 37, "labelFlush": false, "labelOverlap": false,
      "title": "log(Wavelength) [A]", "titleFontSize": 38, "titleY": 93, "titleBaseline": "alphabetic"}},
    "y": {"field": "y", "type": "quantitative", "scale": {"domain": [-2.2, 3.3], "nice": false, "zero": false},
     "axis": {"orient": "left", "values": [-2,-1.5,-1,-0.5,0,0.5,1,1.5,2,2.5,3],
      "tickSize": {"condition": {"test": "datum.value % 1 === 0", "value": -16}, "value": -9},
      "labelExpr": "datum.value % 1 === 0 ? toString(datum.value) : ''",
      "labelPadding": 36, "labelFlush": false, "labelOverlap": false,
      "title": "log(Flux)  [erg cm⁻²  s⁻¹  A⁻¹]  +  13", "titleFontSize": 38, "titleX": -80, "titleY": 352, "titleAngle": -90, "titleBaseline": "alphabetic", "titleAlign": "center"}},
    "order": {"value": null}}},
  {"data": {"name": "xmmo"},
   "mark": {"type": "point", "filled": true, "size": 2707, "opacity": 1, "strokeWidth": 0, "clip": true},
   "encoding": {
    "x": {"field": "x", "type": "quantitative", "scale": {"domain": [1, 5.65], "nice": false, "zero": false}, "axis": null},
    "y": {"field": "y", "type": "quantitative", "scale": {"domain": [-2.2, 3.3], "nice": false, "zero": false}, "axis": null},
    "color": {"field": "s", "type": "nominal",
     "scale": {"domain": ["XMM-Newton","spectrum","photometry","Giant","WD","Nebula","Dust","model SED"], "range": ["#ff66ff","#ff22ff","#ff00ff","#ff5000","#0000ff","#00ee00","#888888","#000000"]},
     "legend": {"orient": "none", "legendX": 1432, "legendY": 11, "title": null, "direction": "vertical",
      "padding": 12, "strokeColor": "#444444", "fillColor": "white",
      "labelFont": "Liberation Sans", "labelFontSize": 32, "labelColor": "#222222", "labelLimit": 400,
      "labelAlign": "right", "labelOffset": -80, "symbolOffset": 236,
      "rowPadding": 0, "symbolSize": 3025, "symbolStrokeWidth": 0}},
    "shape": {"field": "s", "type": "nominal",
     "scale": {"domain": ["XMM-Newton","spectrum","photometry","Giant","WD","Nebula","Dust","model SED"],
      "range": ["M-0.49,-0.49H0.49V0.49H-0.49Z M-0.44,-0.44V0.44H0.44V-0.44Z",
                "M-1,-0.03H1V0.03H-1Z",
                "M-0.58,0A0.58,0.58,0,1,0,0.58,0A0.58,0.58,0,1,0,-0.58,0Z",
                "M-1,-0.026H1V0.026H-1Z",
                "M-1,-0.065H1V0.065H-1Z",
                "M-1,-0.065H1V0.065H-1Z",
                "M-1,-0.065H1V0.065H-1Z",
                "M-1,-0.065H1V0.065H-1Z"]},
     "legend": {"orient": "none", "legendX": 1432, "legendY": 11, "title": null, "direction": "vertical",
      "padding": 12, "strokeColor": "#444444", "fillColor": "white",
      "labelFont": "Liberation Sans", "labelFontSize": 32, "labelColor": "#222222", "labelLimit": 400,
      "labelAlign": "right", "labelOffset": -80, "symbolOffset": 236,
      "rowPadding": 0, "symbolSize": 3025, "symbolStrokeWidth": 0}}}},
  {"data": {"name": "xmmf"},
   "mark": {"type": "point", "shape": "square", "filled": true, "size": 600, "color": "#ff00ff", "opacity": 1, "clip": true},
   "encoding": {
    "x": {"field": "x", "type": "quantitative", "scale": {"domain": [1, 5.65], "nice": false, "zero": false}, "axis": null},
    "y": {"field": "y", "type": "quantitative", "scale": {"domain": [-2.2, 3.3], "nice": false, "zero": false}, "axis": null}}},
  {"data": {"name": "phot"},
   "mark": {"type": "point", "shape": "circle", "filled": true, "size": 755, "color": "#ff00ff", "opacity": 1, "clip": true},
   "encoding": {
    "x": {"field": "x", "type": "quantitative", "scale": {"domain": [1, 5.65], "nice": false, "zero": false}, "axis": null},
    "y": {"field": "y", "type": "quantitative", "scale": {"domain": [-2.2, 3.3], "nice": false, "zero": false}, "axis": null}}},
  {"data": {"name": "labrr"},
   "mark": {"type": "text", "align": "left", "baseline": "alphabetic", "font": "Liberation Serif", "fontSize": 75, "color": "#111111"},
   "encoding": {
    "x": {"field": "x", "type": "quantitative", "scale": {"domain": [1, 5.65], "nice": false, "zero": false}, "axis": null},
    "y": {"field": "y", "type": "quantitative", "scale": {"domain": [-2.2, 3.3], "nice": false, "zero": false}, "axis": null},
    "text": {"field": "t"}}},
  {"data": {"name": "labbig"},
   "mark": {"type": "text", "align": "left", "baseline": "alphabetic", "font": "Liberation Sans", "fontSize": 58, "color": "#111111"},
   "encoding": {
    "x": {"field": "x", "type": "quantitative", "scale": {"domain": [1, 5.65], "nice": false, "zero": false}, "axis": null},
    "y": {"field": "y", "type": "quantitative", "scale": {"domain": [-2.2, 3.3], "nice": false, "zero": false}, "axis": null},
    "text": {"field": "t"}}},
  {"data": {"name": "labband"},
   "mark": {"type": "text", "align": "center", "baseline": "alphabetic", "font": "Liberation Sans", "fontSize": 31, "color": "#111111"},
   "encoding": {
    "x": {"field": "x", "type": "quantitative", "scale": {"domain": [1, 5.65], "nice": false, "zero": false}, "axis": null},
    "y": {"field": "y", "type": "quantitative", "scale": {"domain": [-2.2, 3.3], "nice": false, "zero": false}, "axis": null},
    "text": {"field": "t"}}}
 ],
 "config": {
  "view": {"stroke": "#222222", "strokeWidth": 2},
  "font": "Liberation Sans",
  "axis": {"domain": false, "grid": false, "tickColor": "#333333", "tickWidth": 1.5,
   "labelFont": "Liberation Sans", "labelFontSize": 28, "labelColor": "#222222",
   "titleFont": "Liberation Serif", "titleFontWeight": "normal", "titleColor": "#111111"}
 }
}
